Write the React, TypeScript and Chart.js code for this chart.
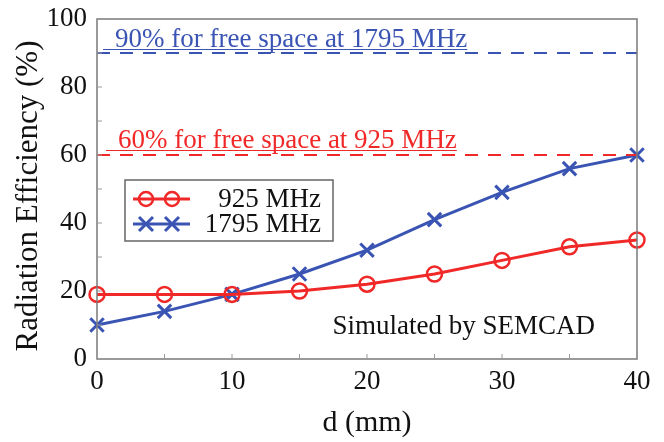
import React, { useEffect, useRef } from "react";
import { Chart, registerables } from "chart.js";

Chart.register(...registerables);

const distances = [0, 5, 10, 15, 20, 25, 30, 35, 40];
const eff925 = [19, 19, 19, 20, 22, 25, 29, 33, 35];
const eff1795 = [10, 14, 19, 25, 32, 41, 49, 56, 60];
const ref1795 = 90;
const ref925 = 60;
const seriesLabels = ["925 MHz", "1795 MHz"];
const refTexts = ["90% for free space at 1795 MHz", "60% for free space at 925 MHz"];
const noteText = "Simulated by SEMCAD";
const xTitle = "d (mm)";
const yTitle = "Radiation Efficiency (%)";

const RED = "#f02828";
const BLUE = "#3a54b4";
const FONT = "'Liberation Serif', 'Times New Roman', serif";

const decorPlugin = {
  id: "decor",
  afterDraw(chart: any) {
    const { ctx, chartArea: a, scales } = chart;
    const xs = scales.x;
    const ys = scales.y;
    ctx.save();
    // frame
    ctx.strokeStyle = "#7a7a7a";
    ctx.lineWidth = 1.5;
    ctx.strokeRect(a.left, a.top, a.right - a.left, a.bottom - a.top);
    // inner ticks
    ctx.strokeStyle = "#9a9a9a";
    ctx.lineWidth = 1;
    for (let v = 5; v < 40; v += 5) {
      const px = xs.getPixelForValue(v);
      ctx.beginPath();
      ctx.moveTo(px, a.bottom);
      ctx.lineTo(px, a.bottom - 5);
      ctx.stroke();
    }
    for (let v = 10; v < 100; v += 10) {
      const py = ys.getPixelForValue(v);
      ctx.beginPath();
      ctx.moveTo(a.left, py);
      ctx.lineTo(a.left + 5, py);
      ctx.stroke();
    }
    // reference annotations
    const drawNote = (text: string, color: string, yv: number, offset: number, xstart: number) => {
      ctx.font = `27px ${FONT}`;
      ctx.fillStyle = color;
      ctx.textAlign = "left";
      ctx.textBaseline = "alphabetic";
      const by = ys.getPixelForValue(yv) - offset;
      ctx.fillText(text, xstart, by);
      const w = ctx.measureText(text).width;
      ctx.strokeStyle = color;
      ctx.lineWidth = 1;
      ctx.beginPath();
      ctx.moveTo(xstart - 12, by + 2.5);
      ctx.lineTo(xstart + w, by + 2.5);
      ctx.stroke();
    };
    drawNote(refTexts[0], BLUE, ref1795, 6, 115);
    drawNote(refTexts[1], RED, ref925, 7, 118);
    // simulated note
    ctx.font = `27px ${FONT}`;
    ctx.fillStyle = "#111";
    ctx.textAlign = "right";
    ctx.fillText(noteText, a.right - 42, ys.getPixelForValue(7.5));
    // legend
    const lx = 125, ly = 180, lw = 208, lh = 61;
    ctx.fillStyle = "#fff";
    ctx.fillRect(lx, ly, lw, lh);
    ctx.strokeStyle = "#666";
    ctx.lineWidth = 1.5;
    ctx.strokeRect(lx, ly, lw, lh);
    const rows = [
      { label: seriesLabels[0], color: RED, y: 199, kind: "circle" },
      { label: seriesLabels[1], color: BLUE, y: 224, kind: "cross" },
    ];
    rows.forEach((r) => {
      ctx.strokeStyle = r.color;
      ctx.lineWidth = 3;
      ctx.beginPath();
      ctx.moveTo(133, r.y);
      ctx.lineTo(190, r.y);
      ctx.stroke();
      [146, 172].forEach((cx) => {
        ctx.lineWidth = r.kind === "circle" ? 2.5 : 3;
        ctx.beginPath();
        if (r.kind === "circle") {
          ctx.arc(cx, r.y, 7, 0, Math.PI * 2);
        } else {
          const d = 7;
          ctx.moveTo(cx - d, r.y - d);
          ctx.lineTo(cx + d, r.y + d);
          ctx.moveTo(cx - d, r.y + d);
          ctx.lineTo(cx + d, r.y - d);
        }
        ctx.stroke();
      });
      ctx.font = `27px ${FONT}`;
      ctx.fillStyle = "#111";
      ctx.textAlign = "right";
      ctx.textBaseline = "middle";
      ctx.fillText(r.label, 321, r.y + 1);
    });
    // axis titles
    ctx.fillStyle = "#111";
    ctx.font = `30px ${FONT}`;
    ctx.textAlign = "center";
    ctx.textBaseline = "middle";
    ctx.fillText(xTitle, (a.left + a.right) / 2, 423);
    ctx.save();
    ctx.translate(29, 196);
    ctx.rotate(-Math.PI / 2);
    ctx.font = `31px ${FONT}`;
    ctx.fillText(yTitle, 0, 0);
    ctx.restore();
    ctx.restore();
  },
};

export default function App() {
  const ref = useRef<HTMLCanvasElement | null>(null);
  useEffect(() => {
    if (!ref.current) return;
    const toPts = (ys: number[]) => distances.map((x, i) => ({ x, y: ys[i] }));
    const refLine = (v: number) => [
      { x: distances[0], y: v },
      { x: distances[distances.length - 1], y: v },
    ];
    const chart = new Chart(ref.current, {
      type: "line",
      data: {
        datasets: [
          {
            label: "ref1795",
            data: refLine(ref1795),
            borderColor: BLUE,
            borderWidth: 2,
            borderDash: [13, 10],
            pointRadius: 0,
            clip: false,
          },
          {
            label: "ref925",
            data: refLine(ref925),
            borderColor: RED,
            borderWidth: 2,
            borderDash: [13, 10],
            pointRadius: 0,
            clip: false,
          },
          {
            label: seriesLabels[0],
            data: toPts(eff925),
            borderColor: RED,
            backgroundColor: "rgba(0,0,0,0)",
            borderWidth: 3,
            pointStyle: "circle",
            pointRadius: 7.5,
            pointBorderWidth: 2.5,
            pointBorderColor: RED,
            pointBackgroundColor: "rgba(0,0,0,0)",
            clip: false,
          },
          {
            label: seriesLabels[1],
            data: toPts(eff1795),
            borderColor: BLUE,
            borderWidth: 3,
            pointStyle: "crossRot",
            pointRadius: 9.5,
            pointBorderWidth: 3,
            pointBorderColor: BLUE,
            clip: false,
          },
        ],
      },
      options: {
        animation: false,
        responsive: true,
        maintainAspectRatio: false,
        layout: { padding: { top: 19, right: 27, left: 0, bottom: 0 } },
        plugins: { legend: { display: false }, tooltip: { enabled: false } },
        scales: {
          x: {
            type: "linear",
            min: 0,
            max: 40,
            ticks: {
              stepSize: 10,
              color: "#111",
              font: { family: FONT, size: 27 },
              padding: 7,
              maxRotation: 0,
            },
            grid: { display: false, drawTicks: false },
            border: { display: false },
            afterFit: (s: any) => {
              s.height = 83;
              s.paddingLeft = 0;
              s.paddingRight = 0;
            },
          },
          y: {
            min: 0,
            max: 100,
            ticks: {
              stepSize: 20,
              color: "#111",
              font: { family: FONT, size: 27 },
              padding: 10,
            },
            grid: { display: false, drawTicks: false },
            border: { display: false },
            afterFit: (s: any) => {
              s.width = 97;
              s.paddingTop = 0;
              s.paddingBottom = 0;
            },
          },
        },
      },
      plugins: [decorPlugin],
    });
    return () => chart.destroy();
  }, []);
  return (
    <div style={{ position: "absolute", left: 0, top: 0, width: 664, height: 442, background: "#fff" }}>
      <canvas ref={ref} />
    </div>
  );
}
